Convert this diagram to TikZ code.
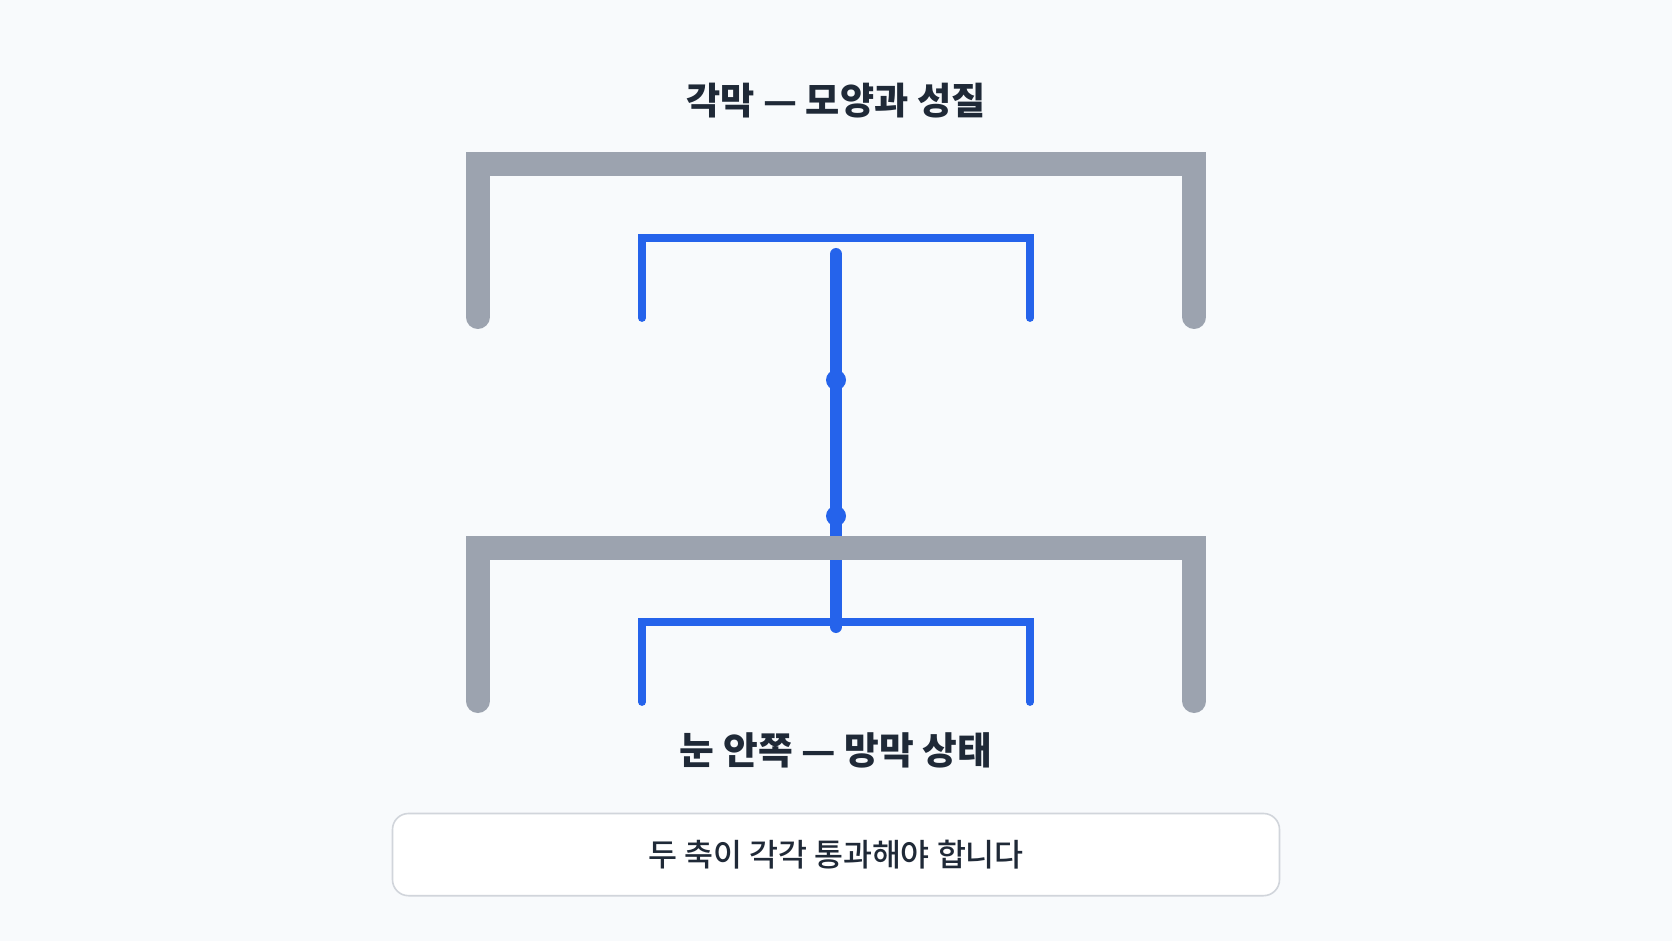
\documentclass[tikz,border=0pt]{standalone}
\usepackage{fontspec}
\usepackage{tikz}
\newfontfamily\krfont{Noto Sans CJK KR}
\newfontfamily\krmedium{Noto Sans CJK KR Medium}
\definecolor{bgpage}{HTML}{F8FAFC}
\definecolor{graybar}{HTML}{9CA3AF}
\definecolor{bluebar}{HTML}{2563EB}
\definecolor{inktext}{HTML}{1F2937}
\definecolor{boxline}{HTML}{D1D5DB}
\begin{document}
\begin{tikzpicture}[x=0.75pt,y=0.75pt,yscale=-1,xscale=1,
    graylid/.style={draw=graybar,line width=18pt,line cap=round,miter limit=10},
    bluelid/.style={draw=bluebar,line width=5.8pt,line cap=round},
    blueaxis/.style={draw=bluebar,line width=9pt,line cap=round},
    axisdot/.style={fill=bluebar},
    headtext/.style={text=inktext,font=\krfont\bfseries\fontsize{27.9}{32}\selectfont,inner sep=0.75pt},
    lowtext/.style={headtext,font=\krfont\bfseries\fontsize{28.3}{33}\selectfont},
    notetext/.style={text=inktext,font=\krmedium\fontsize{23.6}{28}\selectfont,inner sep=0.75pt}]
                  %set diagram left start at 0, and has height of 941
                  \fill [bgpage] (0,0) rectangle (1672,941);
                  \useasboundingbox (0,0) rectangle (1672,941);

                  % Text Node
                  \draw (836,101) node [headtext] (cornea) {각막 — 모양과 성질};

                  %Straight Lines: blue axis (drawn under the lower gray lid)
                  \draw [blueaxis] (836,254) -- (836,627);
                  %Shape: Circle
                  \fill [axisdot] (836,380) circle [radius=10];
                  \fill [axisdot] (836,516) circle [radius=10];

                  %Straight Lines: upper gray lid
                  \draw [graylid] (477.7,317) -- (477.7,164.3) -- (1194.3,164.3) -- (1194.3,317);
                  %Straight Lines: upper blue lid
                  \draw [bluelid] (642,318) -- (642,238) -- (1030,238) -- (1030,318);

                  %Straight Lines: lower gray lid
                  \draw [graylid] (477.7,701) -- (477.7,548) -- (1194.3,548) -- (1194.3,701);
                  %Straight Lines: lower blue lid
                  \draw [bluelid] (642,702) -- (642,621.7) -- (1030,621.7) -- (1030,702);

                  % Text Node
                  \draw (836,750) node [lowtext] (retina) {눈 안쪽 — 망막 상태};

                  %Shape: Rounded Rect
                  \draw [draw=boxline,fill=white,line width=1.2pt,rounded corners=12pt] (392.5,813.5) rectangle (1279.5,895.7);
                  % Text Node
                  \draw (836,855) node [notetext] (passnote) {두 축이 각각 통과해야 합니다};

\end{tikzpicture}
\end{document}
